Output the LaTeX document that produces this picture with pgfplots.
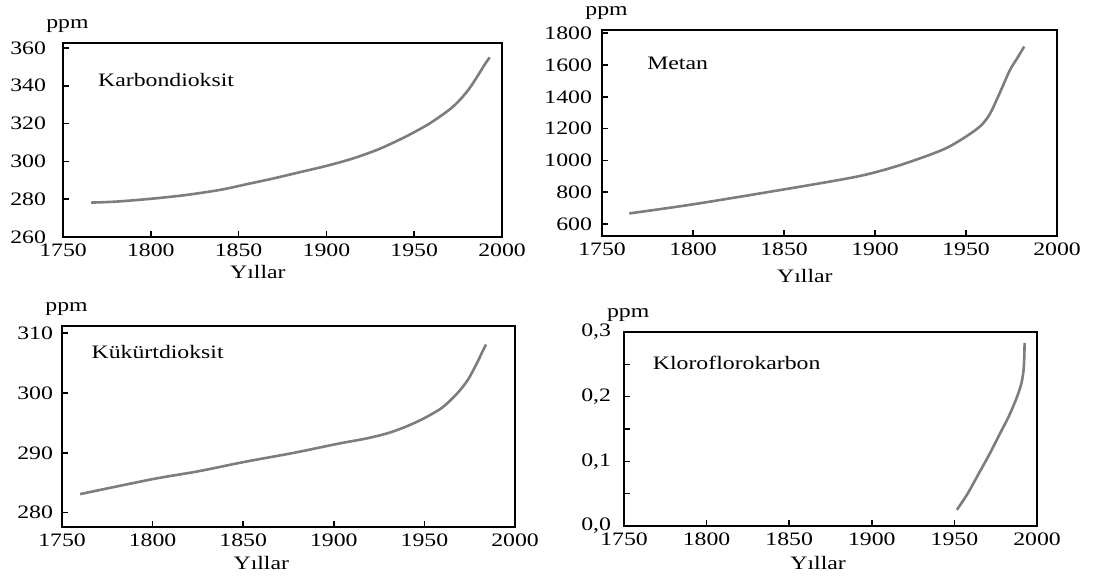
\documentclass[border=0pt]{standalone}
\usepackage{fontspec}
\setmainfont{Liberation Serif}[FakeStretch=1.25]
\usepackage{pgfplots}
\pgfplotsset{compat=1.18}
\definecolor{curve}{RGB}{125,125,125}

\pgfplotsset{
  panel/.style={
    scale only axis,
    anchor=south west,
    xmin=1750, xmax=2000,
    xtick={1750,1800,...,2000},
    axis line style={line width=0.8pt},
    tick align=inside,
    tick pos=left,
    major tick length=3pt,
    minor tick length=3pt,
    every tick/.style={black, line width=0.8pt},
    /pgf/number format/assume math mode=true,
    /pgf/number format/1000 sep={},
    xlabel={Yıllar},
    ylabel={ppm},
    every axis y label/.style={at={(axis description cs:0.01,1)}, anchor=center, yshift=8.5pt},
  },
  crv/.style={draw=curve, line width=1.3pt, mark=none, smooth, tension=0.5},
}

\begin{document}
\begin{tikzpicture}[font=\fontsize{9.5pt}{11pt}\selectfont]
\path[use as bounding box] (0,0) rectangle (556pt,288.5pt);

% Karbondioksit
\begin{axis}[panel,
  at={(31.5pt,170pt)}, width=219.5pt, height=97pt,
  ymin=260, ymax=362.6, ytick={260,280,...,360},
  yticklabel style={xshift=-5pt},
  every axis x label/.style={at={(axis description cs:0.444,0)}, anchor=center, yshift=-17.5pt},
]
\addplot[crv] coordinates {
(1766,278.2) (1780,278.7) (1800,280.2) (1820,282.2) (1840,285.0)
(1855,288.0) (1870,291.0) (1885,294.3) (1900,297.6) (1915,301.5)
(1930,306.5) (1945,313.0) (1958,319.6) (1969,326.6) (1975,331.5)
(1981,338.0) (1986,345.0) (1990,351.0) (1993,355.0)
};
\node[anchor=west] at (rel axis cs:0.064,0.81) {Karbondioksit};
\end{axis}

% Metan
\begin{axis}[panel,
  at={(301pt,170.5pt)}, width=227.5pt, height=103pt,
  ymin=525, ymax=1820, ytick={600,800,...,1800},
  yticklabel style={xshift=-1.5pt},
  every axis x label/.style={at={(axis description cs:0.446,0)}, anchor=center, yshift=-20pt},
]
\addplot[crv] coordinates {
(1765,667) (1800,724) (1848,814) (1885,887) (1900,925)
(1915,975) (1930,1035) (1940,1082) (1950,1150) (1958,1217)
(1963,1290) (1968,1410) (1974,1565) (1978,1640) (1982,1716)
};
\node[anchor=west] at (rel axis cs:0.084,0.838) {Metan};
\end{axis}

% Kükürtdioksit
\begin{axis}[panel,
  at={(31pt,25pt)}, width=226.5pt, height=100.5pt,
  ymin=277.6, ymax=311.2, ytick={280,290,300,310},
  yticklabel style={xshift=-1pt},
  every axis x label/.style={at={(axis description cs:0.44,0)}, anchor=center, yshift=-18pt},
]
\addplot[crv] coordinates {
(1760,283.1) (1800,285.6) (1825,286.9) (1851,288.5) (1878,290.0)
(1902,291.5) (1918,292.4) (1930,293.3) (1940,294.4) (1950,295.8)
(1960,297.6) (1968,299.9) (1974,302.2) (1979,305.0) (1982,306.9)
(1984,308.1)
};
\node[anchor=west] at (rel axis cs:0.05,0.873) {Kükürtdioksit};
\end{axis}

% Kloroflorokarbon
\begin{axis}[panel,
  at={(312pt,25.5pt)}, width=206.5pt, height=97pt,
  ymin=0, ymax=0.3, ytick={0,0.1,0.2,0.3},
  minor ytick={0.05,0.15,0.25},
  yticklabel style={xshift=-3pt, /pgf/number format/.cd, use comma, fixed, fixed zerofill, precision=1},
  every axis x label/.style={at={(axis description cs:0.47,0)}, anchor=center, yshift=-18.5pt},
]
\addplot[crv] coordinates {
(1951.5,0.025) (1958,0.05) (1964.5,0.08) (1971,0.11) (1977,0.14)
(1983,0.17) (1987.5,0.197) (1990.5,0.22) (1992,0.245) (1992.5,0.283)
};
\node[anchor=west] at (rel axis cs:0.053,0.84) {Kloroflorokarbon};
\end{axis}
\end{tikzpicture}
\end{document}
